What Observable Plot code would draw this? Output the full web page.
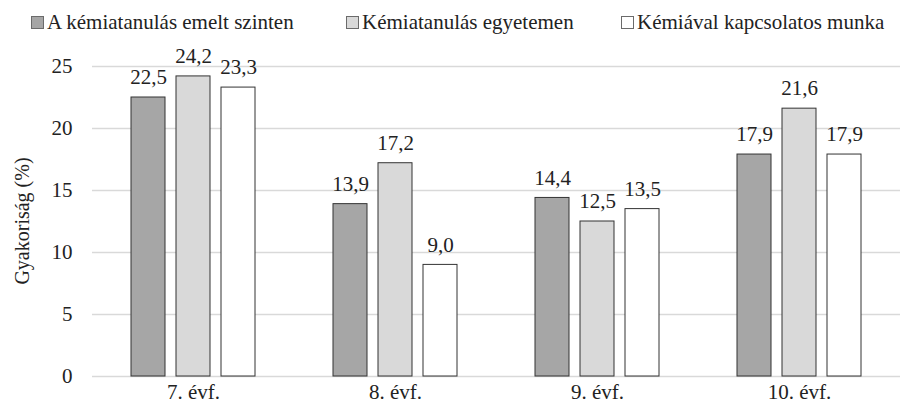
<!DOCTYPE html>
<html>
<head>
<meta charset="utf-8">
<script src="https://cdn.jsdelivr.net/npm/d3@7"></script>
<script src="https://cdn.jsdelivr.net/npm/@observablehq/plot@0.6"></script>
<style>
  html, body { margin: 0; padding: 0; background: #fff; }
  body { width: 900px; height: 412px; overflow: hidden; position: relative; font-family: 'Times New Roman', 'Liberation Serif', serif; }
  #legend { position: relative; height: 40px; font-size: 21px; color: #222; }
  #legend .item { position: absolute; top: 10px; height: 24px; display: flex; align-items: center; white-space: nowrap; }
  #legend .sw { width: 11px; height: 11px; border: 1px solid #6b6b6b; margin-right: 3px; }
  #ylabel { position: absolute; left: 22px; top: 221px; transform: translate(-50%, -50%) rotate(-90deg); font-size: 20px; color: #222; white-space: nowrap; }
</style>
</head>
<body>
<div id="legend"></div>
<div id="chart"></div>
<div id="ylabel"></div>
<script>
const grades = ["7. évf.", "8. évf.", "9. évf.", "10. évf."];
const series = ["A kémiatanulás emelt szinten", "Kémiatanulás egyetemen", "Kémiával kapcsolatos munka"];
const colors = ["#a6a6a6", "#d9d9d9", "#ffffff"];
const emelt = [22.5, 13.9, 14.4, 17.9];
const egyetem = [24.2, 17.2, 12.5, 21.6];
const munka = [23.3, 9.0, 13.5, 17.9];
const yTicks = [0, 5, 10, 15, 20, 25];
const yTitle = "Gyakoriság (%)";
const FONT = "'Times New Roman', 'Liberation Serif', serif";

const values = [emelt, egyetem, munka];
const data = [];
grades.forEach((g, i) => series.forEach((s, j) => data.push({grade: g, series: s, value: values[j][i]})));

const legendLeft = [31, 346, 621];
const legend = document.getElementById("legend");
series.forEach((s, j) => {
  const it = document.createElement("div");
  it.className = "item";
  it.style.left = legendLeft[j] + "px";
  const sw = document.createElement("span");
  sw.className = "sw";
  sw.style.background = colors[j];
  const tx = document.createElement("span");
  tx.textContent = s;
  tx.style.setProperty("font-family", FONT, "important");
  it.appendChild(sw);
  it.appendChild(tx);
  legend.appendChild(it);
});
const yl = document.getElementById("ylabel");
yl.textContent = yTitle;
yl.style.setProperty("font-family", FONT, "important");

const fmt = d => d.toFixed(1).replace(".", ",");

const chart = Plot.plot({
  width: 900,
  height: 372,
  marginLeft: 91,
  marginRight: 0,
  marginTop: 26,
  marginBottom: 36,
  style: { fontFamily: FONT, fontSize: "21px", color: "#222", background: "#fff" },
  fx: { domain: grades, padding: 0, axis: "bottom", tickSize: 0, tickPadding: 8, label: null },
  x: { domain: series, axis: null, paddingInner: 0.24, paddingOuter: 0.82 },
  y: { domain: [0, 25], ticks: yTicks, tickSize: 0, tickPadding: 20, tickFormat: d => d, label: null },
  color: { domain: series, range: colors },
  facet: { data, x: "grade" },
  marks: [
    Plot.ruleY(yTicks, { stroke: "#d9d9d9", strokeWidth: 1.5 }),
    Plot.barY(data, { x: "series", y: "value", fill: "series", stroke: "#333", strokeWidth: 1 }),
    Plot.text(data, { x: "series", y: "value", text: d => fmt(d.value), dy: -20, fill: "#222", fontSize: 21 })
  ]
});
d3.select(chart).selectAll("text").each(function() { this.style.setProperty("font-family", FONT, "important"); });
document.getElementById("chart").appendChild(chart);
</script>
</body>
</html>
